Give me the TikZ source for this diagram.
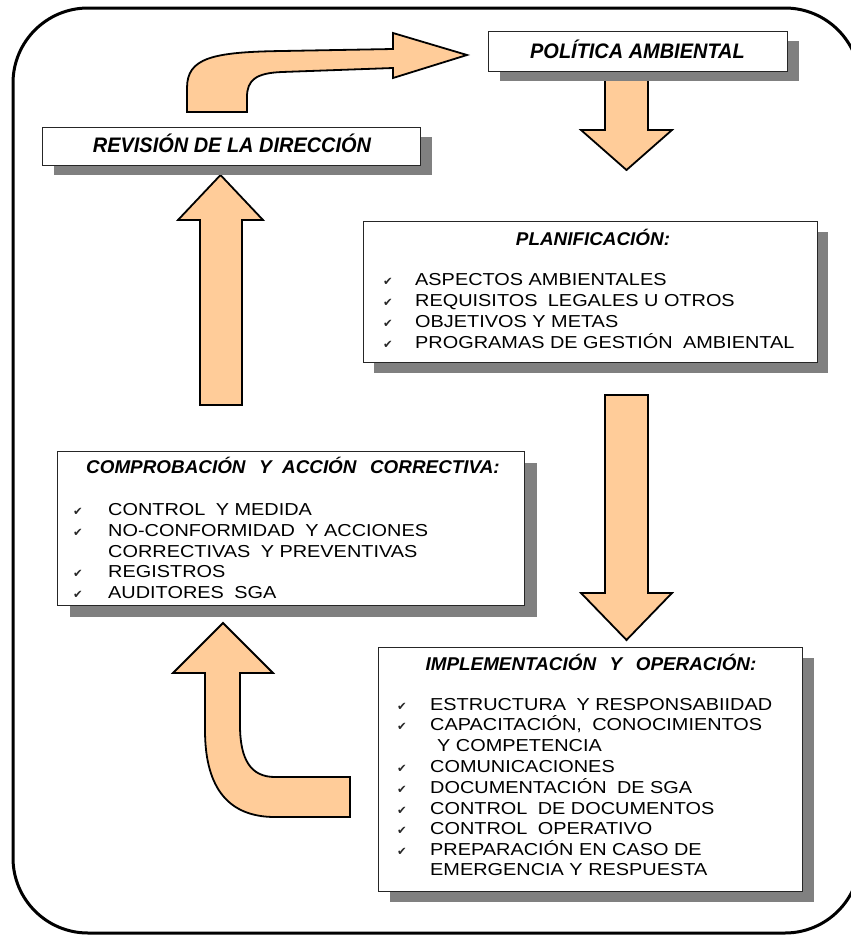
\documentclass[tikz,border=0pt]{standalone}
\usepackage{fontspec}
\setmainfont{Liberation Sans}
\newfontfamily\itemfam[FakeStretch=1.15]{Liberation Sans}
\newfontfamily\ttlfam[FakeStretch=1.02]{Liberation Sans}
\newfontfamily\bigttlfam[FakeStretch=0.95]{Liberation Sans}
\newfontfamily\chkfam{DejaVu Sans}
\newcommand\gp{\hspace{0.28em}\ }
\newcommand\tgp{\hspace{0.45em}\ }
\definecolor{peach}{HTML}{FFCC99}
\definecolor{shgray}{HTML}{808080}
\tikzset{
  box/.style={draw=black!85, line width=1.4pt, fill=white, rectangle, inner sep=0pt, anchor=north west},
  shade/.style={fill=shgray, draw=none},
  fat/.style={fill=peach, draw=black, line width=1.8pt, line join=miter},
  ttl/.style={font=\ttlfam\fontsize{18.5}{21}\selectfont\bfseries\itshape, anchor=base, inner sep=0pt},
  bigttl/.style={font=\bigttlfam\fontsize{21}{24}\selectfont\bfseries\itshape, anchor=base, inner sep=0pt},
  itm/.style={font=\itemfam\fontsize{17.3}{21}\selectfont, anchor=base west, inner sep=0pt},
  chk/.style={font=\chkfam\fontsize{11.5}{14}\selectfont, anchor=base, inner sep=0pt, text=black!85},
  frame/.style={draw=black, line width=3pt, rounded corners=75pt}
}
\begin{document}
\begin{tikzpicture}[x=1pt,y=-1pt]
\useasboundingbox (0,0) rectangle (851,935);
% outer frame
\draw[frame] (13,8) rectangle (860,933);

% block arrows (drawn below boxes)
% curved arrow: Revision -> Politica
\draw[fat] (187,112) -- (187,88) .. controls (187,58) and (212,52) .. (282,51) -- (393,49)
  -- (393,33) -- (467,55) -- (393,78) -- (393,68) -- (282,72)
  .. controls (256,73) and (247,80) .. (247,97) -- (247,112) -- cycle;
% Politica -> Planificacion
\draw[fat] (605,78) -- (648,78) -- (648,130) -- (672,130) -- (626.5,170) -- (581,130) -- (605,130) -- cycle;
% Planificacion -> Implementacion
\draw[fat] (605,395) -- (648,395) -- (648,593) -- (672,593) -- (626.5,640) -- (581,593) -- (605,593) -- cycle;
% Comprobacion -> Revision
\draw[fat] (200,405) -- (242,405) -- (242,220) -- (263,220) -- (220.5,175) -- (178,220) -- (200,220) -- cycle;
% Implementacion -> Comprobacion (curved)
\draw[fat] (205,673) -- (205,730) .. controls (205,790) and (230,817) .. (275,817) -- (350,817)
  -- (350,777) -- (275,777) .. controls (251,777) and (240,760) .. (240,725) -- (240,673)
  -- (273,673) -- (223,623) -- (173,673) -- cycle;

% shadows
\fill[shade] (500,41) rectangle (799,81);
\fill[shade] (54,137) rectangle (432,175);
\fill[shade] (374,232) rectangle (828,373);
\fill[shade] (70,463) rectangle (537,617);
\fill[shade] (390,658) rectangle (814,902);

% boxes
\node[box, minimum width=299pt, minimum height=40pt] (pol) at (488,31) {};
\node[box, minimum width=378pt, minimum height=38pt] (rev) at (42,127) {};
\node[box, minimum width=454pt, minimum height=141pt] (plan) at (363,221) {};
\node[box, minimum width=467pt, minimum height=154pt] (comp) at (57,451) {};
\node[box, minimum width=424pt, minimum height=244pt] (impl) at (378,647) {};

% titles
\node[bigttl] (polt) at (637.5,58) {POLÍTICA AMBIENTAL};
\node[bigttl] (revt) at (232,152) {REVISIÓN DE LA DIRECCIÓN};
\node[ttl] (plant) at (593,245) {PLANIFICACIÓN:};
\node[ttl] (compt) at (293,473) {COMPROBACIÓN\tgp Y\gp ACCIÓN\tgp CORRECTIVA:};
\node[ttl] (implt) at (591,670) {IMPLEMENTACIÓN\tgp Y\tgp OPERACIÓN:};

% planificacion items
\node[chk] (pc1) at (388,285) {✔}; \node[itm] (pi1) at (415,285) {ASPECTOS AMBIENTALES};
\node[chk] (pc2) at (388,306) {✔}; \node[itm] (pi2) at (415,306) {REQUISITOS\gp LEGALES U OTROS};
\node[chk] (pc3) at (388,327) {✔}; \node[itm] (pi3) at (415,327) {OBJETIVOS Y METAS};
\node[chk] (pc4) at (388,348) {✔}; \node[itm] (pi4) at (415,348) {PROGRAMAS DE GESTIÓN\gp AMBIENTAL};

% comprobacion items
\node[chk] (cc1) at (78,515) {✔}; \node[itm] (ci1) at (108,515) {CONTROL\gp Y MEDIDA};
\node[chk] (cc2) at (78,536) {✔}; \node[itm] (ci2) at (108,536) {NO-CONFORMIDAD\gp Y ACCIONES};
\node[itm] (ci2b) at (108,557) {CORRECTIVAS\gp Y PREVENTIVAS};
\node[chk] (cc3) at (78,577) {✔}; \node[itm] (ci3) at (108,577) {REGISTROS};
\node[chk] (cc4) at (78,598) {✔}; \node[itm] (ci4) at (108,598) {AUDITORES\gp SGA};

% implementacion items
\node[chk] (ic1) at (402,710) {✔}; \node[itm] (ii1) at (430,710) {ESTRUCTURA\gp Y RESPONSABIIDAD};
\node[chk] (ic2) at (402,730) {✔}; \node[itm] (ii2) at (430,730) {CAPACITACIÓN,\gp CONOCIMIENTOS};
\node[itm] (ii2b) at (437,751) {Y COMPETENCIA};
\node[chk] (ic3) at (402,772) {✔}; \node[itm] (ii3) at (430,772) {COMUNICACIONES};
\node[chk] (ic4) at (402,793) {✔}; \node[itm] (ii4) at (430,793) {DOCUMENTACIÓN\gp DE SGA};
\node[chk] (ic5) at (402,814) {✔}; \node[itm] (ii5) at (430,814) {CONTROL\gp DE DOCUMENTOS};
\node[chk] (ic6) at (402,834) {✔}; \node[itm] (ii6) at (430,834) {CONTROL\gp OPERATIVO};
\node[chk] (ic7) at (402,855) {✔}; \node[itm] (ii7) at (430,855) {PREPARACIÓN EN CASO DE};
\node[itm] (ii7b) at (430,875) {EMERGENCIA Y RESPUESTA};
\end{tikzpicture}
\end{document}
